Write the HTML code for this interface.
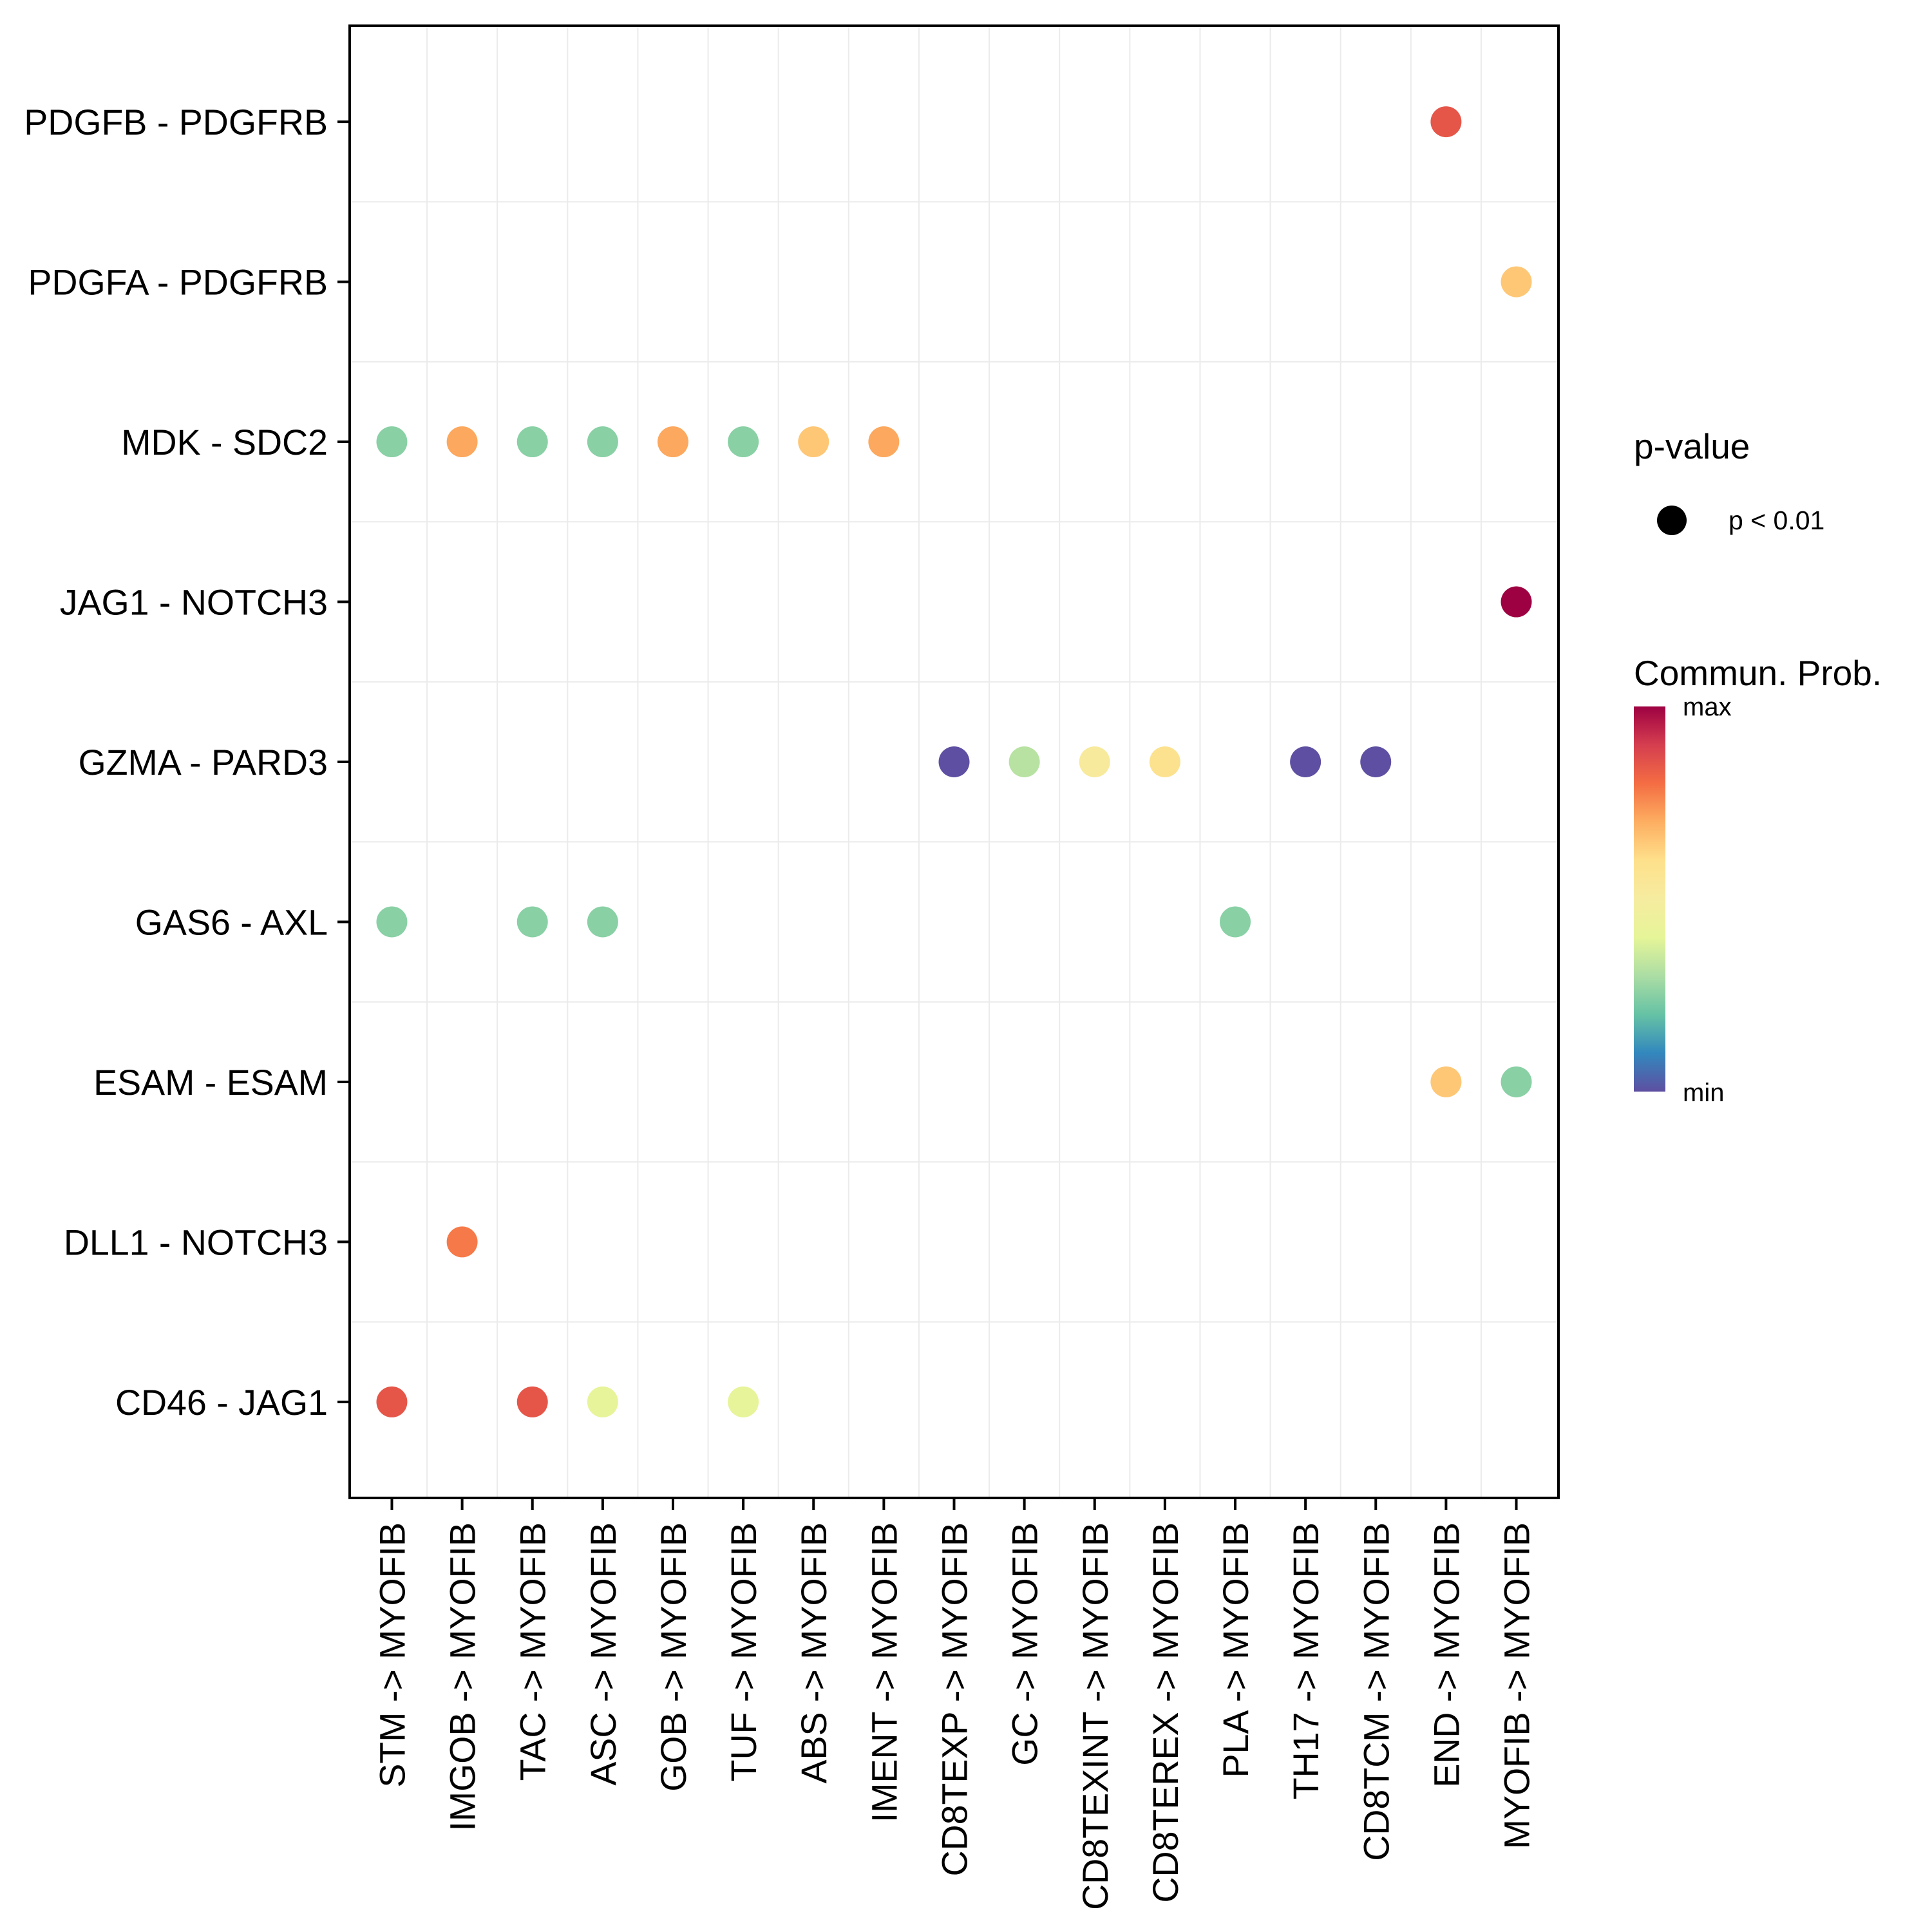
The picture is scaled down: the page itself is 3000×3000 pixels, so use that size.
<!DOCTYPE html>
<html><head><meta charset="utf-8"><style>
html,body{margin:0;padding:0;background:#fff;}
svg{display:block;font-family:"Liberation Sans",Arial,sans-serif;}
</style></head><body>
<svg id="chart" width="3000" height="3000" viewBox="0 0 3000 3000">
<rect width="3000" height="3000" fill="#fff"/>
<g id="grid"></g><g id="dots"></g><g id="axes"></g>
<g id="legend">
 <text x="2537" y="712" font-size="55">p-value</text>
 <circle cx="2596" cy="808" r="23" fill="#000"/>
 <text x="2684" y="822" font-size="41">p &lt; 0.01</text>
 <text x="2537" y="1064" font-size="55">Commun. Prob.</text>
 <defs><linearGradient id="spec" x1="0" y1="1" x2="0" y2="0">
  <stop offset="0" stop-color="#5E4FA2"/><stop offset="0.1" stop-color="#3288BD"/><stop offset="0.2" stop-color="#66C2A5"/><stop offset="0.3" stop-color="#ABDDA4"/><stop offset="0.4" stop-color="#E6F598"/><stop offset="0.5" stop-color="#F6ECA0"/><stop offset="0.6" stop-color="#FEE08B"/><stop offset="0.7" stop-color="#FDAE61"/><stop offset="0.8" stop-color="#F46D43"/><stop offset="0.9" stop-color="#D53E4F"/><stop offset="1" stop-color="#9E0142"/>
 </linearGradient></defs>
 <rect x="2537" y="1097" width="49" height="598" fill="url(#spec)"/>
 <text x="2613" y="1111" font-size="40">max</text>
 <text x="2613" y="1710" font-size="40">min</text>
</g>
</svg>
<script>
const xCategories = ["STM","IMGOB","TAC","ASC","GOB","TUF","ABS","IMENT","CD8TEXP","GC","CD8TEXINT","CD8TEREX","PLA","TH17","CD8TCM","END","MYOFIB"];
const yCategories = ["PDGFB - PDGFRB","PDGFA - PDGFRB","MDK - SDC2","JAG1 - NOTCH3","GZMA - PARD3","GAS6 - AXL","ESAM - ESAM","DLL1 - NOTCH3","CD46 - JAG1"];
const pointSource = ["END","MYOFIB","STM","IMGOB","TAC","ASC","GOB","TUF","ABS","IMENT","MYOFIB","CD8TEXP","GC","CD8TEXINT","CD8TEREX","TH17","CD8TCM","STM","TAC","ASC","PLA","END","MYOFIB","IMGOB","STM","TAC","ASC","TUF"];
const pointPair = ["PDGFB - PDGFRB","PDGFA - PDGFRB","MDK - SDC2","MDK - SDC2","MDK - SDC2","MDK - SDC2","MDK - SDC2","MDK - SDC2","MDK - SDC2","MDK - SDC2","JAG1 - NOTCH3","GZMA - PARD3","GZMA - PARD3","GZMA - PARD3","GZMA - PARD3","GZMA - PARD3","GZMA - PARD3","GAS6 - AXL","GAS6 - AXL","GAS6 - AXL","GAS6 - AXL","ESAM - ESAM","ESAM - ESAM","DLL1 - NOTCH3","CD46 - JAG1","CD46 - JAG1","CD46 - JAG1","CD46 - JAG1"];
const pointProb = [0.85,0.65,0.25,0.71,0.25,0.25,0.71,0.25,0.65,0.71,1.0,0.0,0.32,0.52,0.58,0.0,0.0,0.25,0.25,0.25,0.25,0.65,0.25,0.78,0.85,0.85,0.41,0.41];

const NS="http://www.w3.org/2000/svg";
const L=543,R=2420,T=40,B=2326;
const xStep=(R-L)/(xCategories.length-1+1.2);
const yStep=(B-T)/(yCategories.length-1+1.2);
function xPos(c){return L+xStep*(0.6+xCategories.indexOf(c));}
function yPos(c){return T+yStep*(0.6+yCategories.indexOf(c));}
const stops=["#5E4FA2","#3288BD","#66C2A5","#ABDDA4","#E6F598","#F6ECA0","#FEE08B","#FDAE61","#F46D43","#D53E4F","#9E0142"];
function hex(h){return [1,3,5].map(i=>parseInt(h.substr(i,2),16));}
function colorScale(v){const p=Math.max(0,Math.min(1,v))*10;const i=Math.min(9,Math.floor(p));const f=p-i;const a=hex(stops[i]),b=hex(stops[i+1]);return "rgb("+a.map((x,k)=>Math.round(x+(b[k]-x)*f)).join(",")+")";}
function mk(tag,attrs,parent){const e=document.createElementNS(NS,tag);for(const k in attrs)e.setAttribute(k,attrs[k]);parent.appendChild(e);return e;}

const grid=document.getElementById("grid"),dots=document.getElementById("dots"),axes=document.getElementById("axes");
for(let i=0;i<xCategories.length-1;i++){const x=xPos(xCategories[i])+xStep/2;
 const g=mk("line",{x1:x,x2:x,y1:T,y2:B,stroke:"#ebebeb","stroke-width":2},grid);
 
 }
for(let i=0;i<yCategories.length-1;i++){const y=yPos(yCategories[i])+yStep/2;
 const g=mk("line",{x1:L,x2:R,y1:y,y2:y,stroke:"#ebebeb","stroke-width":2},grid);
 
 }
for(let i=0;i<pointProb.length;i++){
 const c=mk("circle",{cx:xPos(pointSource[i]),cy:yPos(pointPair[i]),r:24,fill:colorScale(pointProb[i])},dots);
 
 }
const frame=mk("rect",{x:L,y:T,width:R-L,height:B-T,fill:"none",stroke:"#000","stroke-width":4},axes);


yCategories.forEach(c=>{const y=yPos(c);
 mk("line",{x1:L-19,x2:L,y1:y,y2:y,stroke:"#000","stroke-width":4},axes);
 const t=mk("text",{x:L-34,y:y+20,"font-size":55.5,"text-anchor":"end",fill:"#000"},axes);t.textContent=c;
 
 });
xCategories.forEach(c=>{const x=xPos(c);
 mk("line",{x1:x,x2:x,y1:B,y2:B+19,stroke:"#000","stroke-width":4},axes);
 const t=mk("text",{x:0,y:0,"font-size":55.5,"text-anchor":"end",fill:"#000",transform:"translate("+(x+20)+","+(B+38)+") rotate(-90)"},axes);
 t.textContent=c+" -> MYOFIB";
 
 });
</script>
</body></html>
